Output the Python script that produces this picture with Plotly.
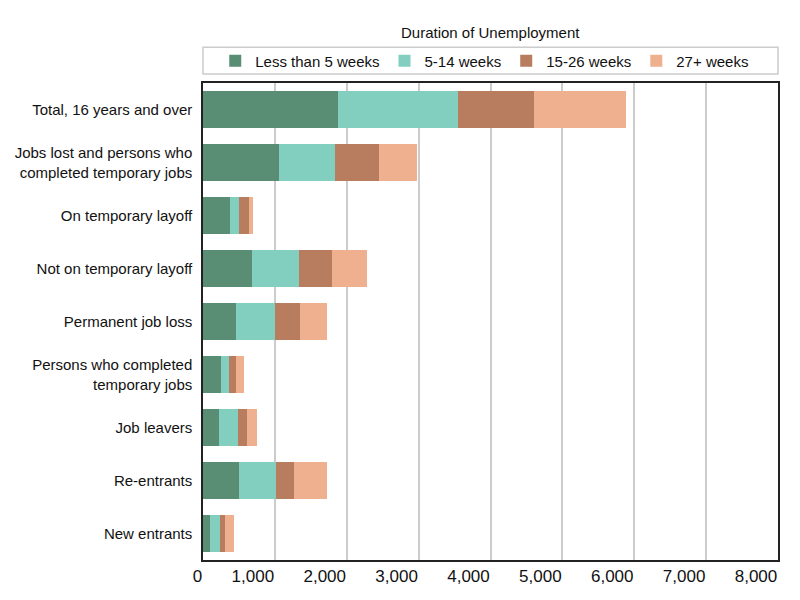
import plotly.graph_objects as go

categories = [
    "Total, 16 years and over",
    "Jobs lost and persons who<br>completed temporary jobs",
    "On temporary layoff",
    "Not on temporary layoff",
    "Permanent job loss",
    "Persons who completed<br>temporary jobs",
    "Job leavers",
    "Re-entrants",
    "New entrants",
]
series_names = ["Less than 5 weeks", "5-14 weeks", "15-26 weeks", "27+ weeks"]
less_than_5 = [1883, 1056, 369, 685, 453, 244, 226, 504, 104]
weeks_5_14 = [1662, 775, 135, 645, 543, 111, 259, 506, 136]
weeks_15_26 = [1062, 613, 134, 469, 358, 107, 121, 255, 69]
weeks_27_plus = [1273, 530, 56, 478, 370, 112, 143, 459, 126]
colors = ["#5A8E74", "#82CFC0", "#B87D5F", "#EEB08E"]

fig = go.Figure()
for name, vals, col in zip(series_names, [less_than_5, weeks_5_14, weeks_15_26, weeks_27_plus], colors):
    fig.add_trace(go.Bar(
        y=categories, x=vals, name=name, orientation="h",
        marker=dict(color=col, line=dict(width=0)),
    ))

fig.update_layout(
    barmode="stack",
    bargap=0.3,
    width=800, height=600,
    margin=dict(l=203, r=22, t=83, b=40, autoexpand=False),
    paper_bgcolor="white", plot_bgcolor="white",
    font=dict(family="Liberation Sans, Arial, sans-serif", color="#111111"),
    showlegend=True,
    legend=dict(
        orientation="h", x=0.49, xanchor="center", y=1.046, yanchor="middle",
        yref="paper", font=dict(size=15), traceorder="normal",
        itemwidth=30, bgcolor="rgba(0,0,0,0)",
    ),
    xaxis=dict(
        range=[0, 8000], dtick=1000, tickformat=",", showgrid=True,
        gridcolor="#cccccc", gridwidth=1.5, zeroline=False,
        showline=True, linecolor="#222222", linewidth=1.5, mirror=True,
        tickfont=dict(size=17), ticks="", automargin=False,
        ticklabelposition="outside left", ticklabeloverflow="allow",
    ),
    yaxis=dict(
        autorange="reversed", showline=True, linecolor="#222222", linewidth=1.5,
        mirror=True, tickfont=dict(size=15), ticks="", ticklabelstandoff=6,
        automargin=False, ticklabeloverflow="allow",
    ),
    shapes=[dict(
        type="rect", xref="paper", yref="paper", x0=0, x1=1, y0=1.019, y1=1.075,
        line=dict(color="#cccccc", width=1.5), fillcolor="rgba(0,0,0,0)",
    )],
    annotations=[dict(
        text="Duration of Unemployment", xref="paper", yref="paper",
        x=0.5, y=1.105, xanchor="center", yanchor="middle", showarrow=False,
        font=dict(size=15),
    )],
)

fig.write_html("out.html")
